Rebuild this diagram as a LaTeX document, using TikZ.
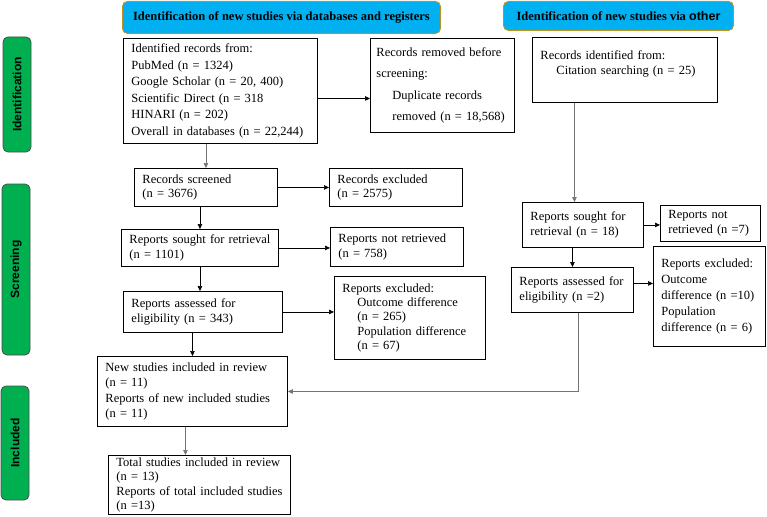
\documentclass[tikz,border=0pt]{standalone}
\usepackage{fontspec}
\setmainfont{Liberation Serif}
\newfontfamily\sidefont{Liberation Sans}
\usepackage{tikz}
\usetikzlibrary{positioning,arrows.meta}

\definecolor{hdrblue}{HTML}{00B0F0}
\definecolor{hdrgold}{HTML}{C09020}
\definecolor{phasegreen}{HTML}{00B050}

\begin{document}
\begin{tikzpicture}[x=1pt,y=-1pt,
	box/.style={draw=black,line width=0.9pt,anchor=north west,align=left,inner xsep=8pt,inner ysep=2pt,font=\fontsize{12.5}{15}\selectfont},
	header/.style={draw=hdrgold,fill=hdrblue,line width=0.9pt,rounded corners=5pt,anchor=north west,font=\bfseries\fontsize{12.5}{14}\selectfont},
	phase/.style={draw=black!70,fill=phasegreen,line width=0.8pt,rounded corners=5pt,rotate=90,minimum height=28pt,font=\sidefont\bfseries\fontsize{12}{13}\selectfont},
	arr/.style={line width=0.7pt,-{Triangle[length=5pt,width=4.5pt]}},
	grayarr/.style={arr,draw=black!55}]

		\useasboundingbox (0,0) rectangle (767,516);

		%phase labels
		\node[phase,minimum width=115pt] (pid) at (17,94.5) {Identification};
		\node[phase,minimum width=171pt] (pscr) at (16,269.5) {Screening};
		\node[phase,minimum width=114pt] (pinc) at (15,443) {Included};

		%headers
		\node[header,minimum width=318pt,minimum height=32pt] (hdb) at (122,1) {Identification of new studies via databases and registers};
		\node[header,minimum width=230pt,minimum height=29pt] (hot) at (503,1) {Identification of new studies via {\sidefont\bfseries other}};

		%databases column
		\node[box,text width=178pt,minimum height=105pt,font=\fontsize{12.5}{16.5}\selectfont] (idrec) at (123,38) {Identified records from:\\PubMed (n = 1324)\\Google Scholar (n = 20, 400)\\Scientific Direct (n = 318\\HINARI (n = 202)\\Overall in databases (n = 22,244)};
		\node[box,inner xsep=6pt,text width=132pt,minimum height=94pt,font=\fontsize{12.5}{21.5}\selectfont] (removed) at (370,38) {Records removed before\\screening:\\\hspace*{16pt}Duplicate records\\\hspace*{16pt}removed (n = 18,568)};
		\node[box,text width=127pt,minimum height=38pt,font=\fontsize{12.5}{14.3}\selectfont] (screened) at (134,168) {Records screened\\(n = 3676)};
		\node[box,text width=117pt,minimum height=38pt,font=\fontsize{12.5}{14.3}\selectfont] (excluded) at (329,168) {Records excluded\\(n = 2575)};
		\node[box,text width=141pt,minimum height=37pt] (sought) at (121,229) {Reports sought for retrieval\\(n = 1101)};
		\node[box,text width=117pt,minimum height=39pt] (notret) at (330,227) {Reports not retrieved\\(n = 758)};
		\node[box,text width=143pt,minimum height=41pt] (assessed) at (123,291) {Reports assessed for\\eligibility (n = 343)};
		\node[box,text width=135pt,minimum height=83pt,font=\fontsize{12.5}{14.3}\selectfont] (excl) at (334,276) {Reports excluded:\\\hspace*{15pt}Outcome difference\\\hspace*{15pt}(n = 265)\\\hspace*{15pt}Population difference\\\hspace*{15pt}(n = 67)};
		\node[box,text width=174pt,minimum height=70pt,font=\fontsize{12.5}{15.5}\selectfont] (newst) at (97,356) {New studies included in review\\(n = 11)\\Reports of new included studies\\(n = 11)};
		\node[box,text width=166pt,minimum height=58pt,font=\fontsize{12.5}{14.5}\selectfont] (total) at (108,455) {Total studies included in review\\(n = 13)\\Reports of total included studies\\(n =13)};

		%other column
		\node[box,text width=169pt,minimum height=65pt] (citation) at (532,37) {Records identified from:\\\hspace*{16pt}Citation searching (n = 25)\\\mbox{}};
		\node[box,text width=105pt,minimum height=45pt] (soughtO) at (522,202) {Reports sought for\\retrieval (n = 18)};
		\node[box,text width=84pt,minimum height=36pt] (notretO) at (660,205) {Reports not\\retrieved (n =7)};
		\node[box,text width=106pt,minimum height=45pt] (assessedO) at (511,267) {Reports assessed for\\eligibility (n =2)};
		\node[box,text width=96pt,minimum height=100pt,font=\fontsize{12.5}{16}\selectfont] (exclO) at (653,246) {Reports excluded:\\Outcome\\difference (n =10)\\Population\\difference (n = 6)};

		%edges
		\coordinate (a1) at ([yshift=-7.5pt]idrec.east);
		\draw[arr] (a1) -- (a1 -| removed.west);
		\draw[grayarr] (screened.north |- idrec.south) -- (screened.north);
		\draw[arr] (screened.east) -- (excluded.west);
		\draw[arr] (sought.north |- screened.south) -- (sought.north);
		\draw[arr] (sought.east) -- (sought.east -| notret.west);
		\draw[arr] (sought.south) -- (sought.south |- assessed.north);
		\draw[arr] (assessed.east) -- (assessed.east -| excl.west);
		\draw[arr] (newst.north |- assessed.south) -- (newst.north);
		\coordinate (a2) at ([xshift=-7pt]newst.south);
		\draw[grayarr] (a2) -- (a2 |- total.north);

		\coordinate (c1) at ([xshift=-8.5pt]soughtO.north);
		\draw[grayarr] (c1 |- citation.south) -- (c1);
		\draw[arr] (soughtO.east) -- (soughtO.east -| notretO.west);
		\draw[arr] (assessedO.north |- soughtO.south) -- (assessedO.north);
		\coordinate (c2) at ([yshift=6.5pt]assessedO.east);
		\draw[arr] (c2) -- (c2 -| exclO.west);
		\coordinate (c3) at ([xshift=6pt]assessedO.south);
		\draw[grayarr] (c3) |- (newst.east);

\end{tikzpicture}
\end{document}
